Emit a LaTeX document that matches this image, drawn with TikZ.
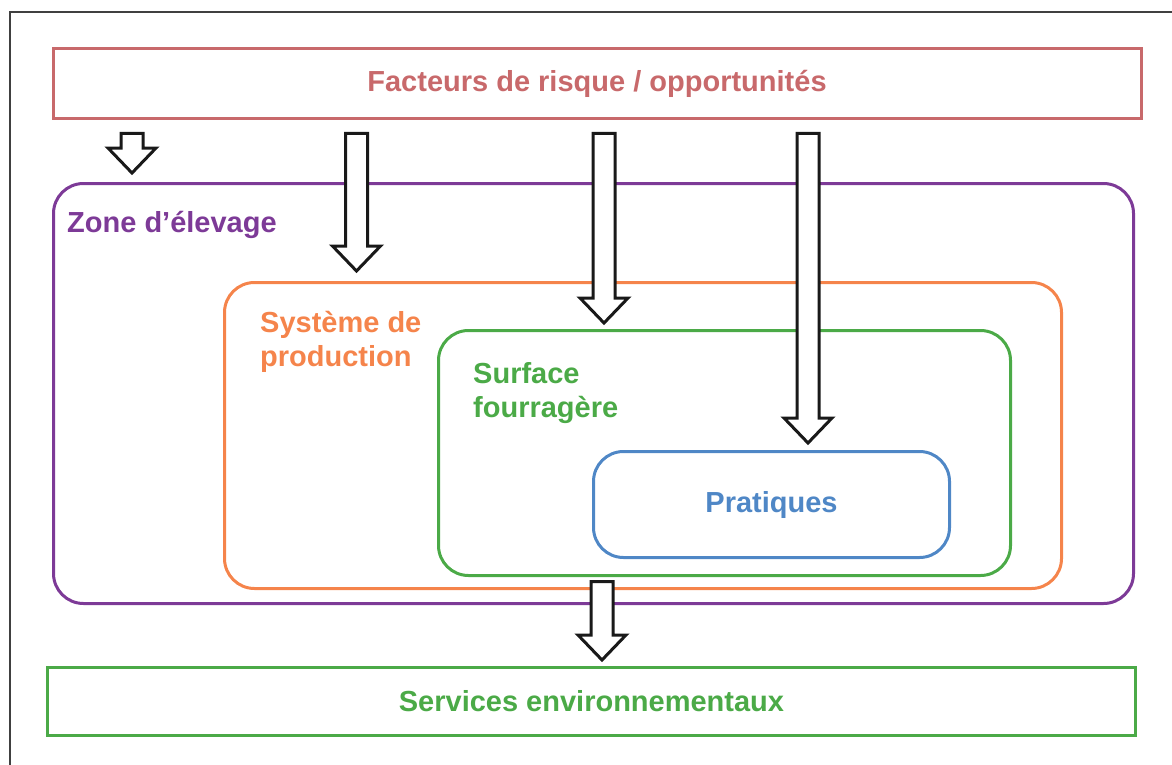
\documentclass[tikz,border=0pt]{standalone}
\usepackage{fontspec}
\setmainfont{Liberation Sans}
\usepackage{tikz}
\usetikzlibrary{calc}

\definecolor{risk}{HTML}{C8696B}
\definecolor{zone}{HTML}{7D3A97}
\definecolor{prod}{HTML}{F5844B}
\definecolor{surf}{HTML}{4BAA47}
\definecolor{prat}{HTML}{4F87C6}

% fleche creuse entre deux points (haut, pointe)
\newcommand{\blockarrow}[2]{\draw [blockarrow] let \p1=(#1), \p2=(#2) in
	(\x1-11pt,\y1) -- (\x1+11pt,\y1) -- (\x1+11pt,\y2+25pt) -- (\x1+24pt,\y2+25pt) --
	(\x1,\y2) -- (\x1-24pt,\y2+25pt) -- (\x1-11pt,\y2+25pt) -- cycle;}

\begin{document}
\begin{tikzpicture}[x=1pt,y=-1pt]
			\tikzstyle{every node}+=[inner sep=0pt, font=\fontsize{29}{34}\selectfont\bfseries]
			\tikzstyle{box}=[draw, line width=3pt]
			\tikzstyle{roundbox}=[box, rounded corners=30pt]
			\tikzstyle{boxtitle}=[anchor=base west, align=left]
			\tikzstyle{blockarrow}=[draw=black!90, fill=white, line width=3pt]
			\useasboundingbox (0,0) rectangle (1172,765);
			% cadre
			\draw [black!75, line width=2pt] (10,765) -- (10,12) -- (1172,12);
			% boites
			\node [box, draw=risk, text=risk, minimum width=1088pt, minimum height=70pt] (risque) at (597,84) {Facteurs de risque / opportunités};
			\node [box, draw=surf, text=surf, minimum width=1088pt, minimum height=68pt] (services) at (591.5,701.5) {Services environnementaux};
			\node [roundbox, draw=zone, minimum width=1080pt, minimum height=420pt] (zone) at (593.5,393.5) {};
			\node [roundbox, draw=prod, minimum width=837pt, minimum height=306pt] (prod) at (643,435.5) {};
			\node [roundbox, draw=surf, minimum width=572pt, minimum height=245pt] (surf) at (724.5,453) {};
			\node [roundbox, draw=prat, text=prat, minimum width=356pt, minimum height=106pt] (prat) at (771.5,504.5) {Pratiques};
			\node [boxtitle, text=zone] (zonetxt) at (67,232) {Zone d’élevage};
			\node [boxtitle, text=prod] (prodtxt) at (260,366) {Système de\\production};
			\node [boxtitle, text=surf] (surftxt) at (473,417) {Surface\\fourragère};
			% fleches
			\coordinate (r1) at (132,133.5);
			\coordinate (z1) at (132,173);
			\coordinate (r2) at (356.5,133.5);
			\coordinate (p2) at (356.5,271);
			\coordinate (r3) at (604,133.5);
			\coordinate (s3) at (604,323);
			\coordinate (r4) at (808,133.5);
			\coordinate (t4) at (808,443);
			\coordinate (s5) at (602,581.5);
			\coordinate (e5) at (602,660);
			\blockarrow{r1}{z1}
			\blockarrow{r2}{p2}
			\blockarrow{r3}{s3}
			\blockarrow{r4}{t4}
			\blockarrow{s5}{e5}
\end{tikzpicture}
\end{document}
